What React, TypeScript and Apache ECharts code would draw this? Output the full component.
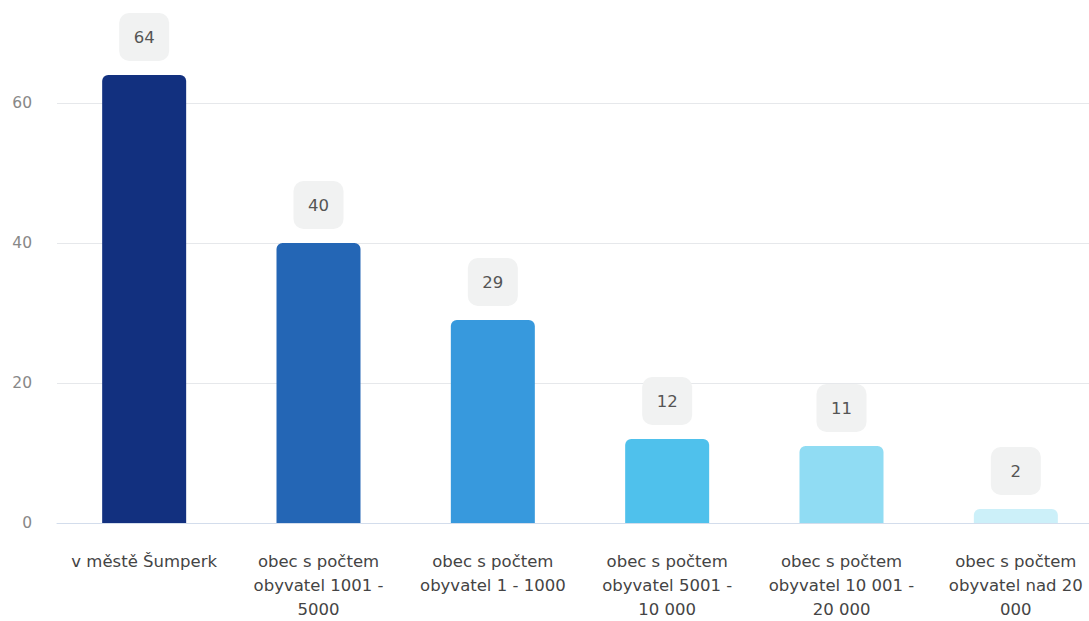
import React, { useEffect, useRef } from "react";
import * as echarts from "echarts";

const categories = [
  "v městě Šumperk",
  "obec s počtem\nobyvatel 1001 -\n5000",
  "obec s počtem\nobyvatel 1 - 1000",
  "obec s počtem\nobyvatel 5001 -\n10 000",
  "obec s počtem\nobyvatel 10 001 -\n20 000",
  "obec s počtem\nobyvatel nad 20\n000",
];
const values = [64, 40, 29, 12, 11, 2];
const barColors = ["#12307f", "#2466b5", "#3799dd", "#4fc1ec", "#90dcf3", "#ccf0f9"];
const yTicks = [0, 20, 40, 60, 80];

export default function App() {
  const ref = useRef<HTMLDivElement>(null);
  useEffect(() => {
    if (!ref.current) return;
    const chart = echarts.init(ref.current, null, { renderer: "svg" });
    chart.setOption({
      animation: false,
      textStyle: { fontFamily: "'DejaVu Sans', sans-serif" },
      grid: { left: 57, right: 0, top: 3, bottom: 98 },
      xAxis: {
        type: "category",
        data: categories,
        axisLine: { show: true, lineStyle: { color: "#d3ddec", width: 1 } },
        axisTick: { show: false },
        axisLabel: {
          color: "#444",
          fontSize: 16.5,
          lineHeight: 24,
          margin: 26,
          interval: 0,
        },
      },
      yAxis: {
        type: "value",
        min: yTicks[0],
        max: yTicks[yTicks.length - 1],
        interval: 20,
        axisLine: { show: false },
        axisTick: { show: false },
        axisLabel: { color: "#888", fontSize: 15.5, margin: 25, showMaxLabel: false },
        splitLine: { lineStyle: { color: "#e6e8eb", width: 1 } },
      },
      series: [
        {
          type: "bar",
          barWidth: 84,
          data: values.map((v, i) => ({
            value: v,
            itemStyle: { color: barColors[i], borderRadius: [6, 6, 0, 0] },
          })),
          label: {
            show: true,
            position: "top",
            distance: 14,
            color: "#555",
            fontSize: 16.5,
            backgroundColor: "#f1f2f2",
            borderRadius: 10,
            width: 50,
            align: "center",
            padding: [15, 0],
            lineHeight: 18,
          },
        },
      ],
    });
    return () => chart.dispose();
  }, []);
  return (
    <div
      ref={ref}
      style={{ position: "fixed", left: 0, top: -40, width: 1103, height: 661, background: "#fff" }}
    />
  );
}
